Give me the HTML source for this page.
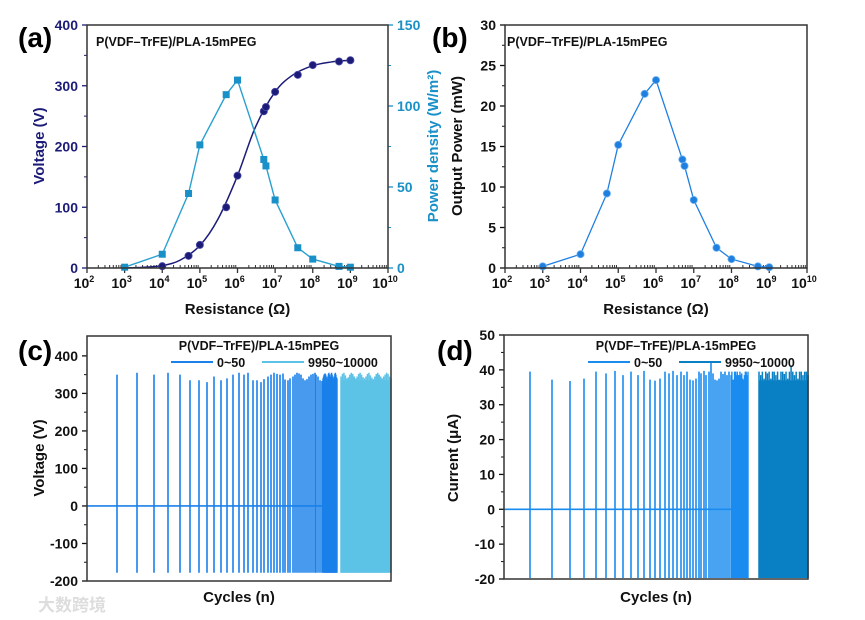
<!DOCTYPE html>
<html><head><meta charset="utf-8"><style>
html,body{margin:0;padding:0;background:#fff;}
svg{display:block;font-family:"Liberation Sans",Arial,sans-serif;font-weight:bold;}
</style></head><body>
<svg id="fig" width="865" height="620" viewBox="0 0 865 620" xmlns="http://www.w3.org/2000/svg">
<text x="38" y="611" font-size="17" fill="#ddd" font-family="'Liberation Sans','Noto Sans CJK SC',sans-serif">大数跨境</text>
</svg>
<script>
// ---------- data ----------
const resA = [1e4,5e4,1e5,5e5,1e6,5e6,5.7e6,1e7,4e7,1e8,5e8,1e9];
const voltA = [3,20,38,100,152,258,265,290,318,334,340,342];
const fitR = [1e3,3e3,1e4,3e4,1e5,3e5,1e6,3e6,1e7,3e7,1e8,3e8,1e9];
const fitV = [0,1,4,13,37,80,152,232,290,318,333,339,342];
const resP = [1e3,1e4,5e4,1e5,5e5,1e6,5e6,5.7e6,1e7,4e7,1e8,5e8,1e9];
const powDens = [0.5,8.5,46,76,107,116,67,63,42,12.5,5.5,1,0.5];
const outPow = [0.2,1.7,9.2,15.2,21.5,23.2,13.4,12.6,8.4,2.5,1.1,0.2,0.1];
const ytA = [0,100,200,300,400];
const ytA2 = [0,50,100,150];
const ytB = [0,5,10,15,20,25,30];
const xExp = [2,3,4,5,6,7,8,9,10];
// panel c spikes (time units 0..304)
const cTimes = [30,50,67,81,93,103,112,120,127,134,140,146,152,157,161,166,170,174,177,181,184,187,190,193,196,198,201,203,206,208,210,212,214,216,218,220,222,224,226,228,229,231,233,235];
const cPeaks = [350,355,350,355,350,335,335,330,345,335,340,350,355,350,355,335,335,330,338,345,350,355,352,350,353,337,335,340,345,350,355,353,350,340,335,338,345,350,352,355,350,345,335,333];
const cNeg = -178;
const cTail = [340,345,350,352,353,350,345,340,332,345,352,355,350,340,345,352,355,350,345,340,338,345,352,355,350,343,340];
const c2Peaks = [345,352,355,348,340,343,350,355,352,345,340,345,352,355,350,343,340,345,352,355,348,342,338,345,352,355,350,345,340,345,350,355,352,345,340];
const ytC = [-200,-100,0,100,200,300,400];
// panel d spikes (time units 0..304)
const dTimes = [26,48,66,80,92,102,111,119,127,134,140,146,151,156,161,165,169,173,177,180,183,186,189,192,195,197,200,202,205,207,209,211,213,215,217,219,221,223,225];
const dPeaks = [39.5,37.2,36.8,37.5,39.5,39,39.7,38.5,39.5,38.5,39.7,37.2,36.9,37.5,39.5,39,39.7,38.5,39.5,38.5,39.5,37.2,37,37.5,39.5,39,39.7,38.5,39.5,42.5,39,37.2,37,37.5,39.5,38.8,39.5,38.5,39.5];
const dNeg = -19.7;
const dTail = [38.5,39.5,37.2,37.2,39.5,39.5,38.5,39.5,38.5,38.5,39.5,38.5,39,37.5,37.2,38.5,39.5,39.5,38.5,39.5];
const d2Peaks = [39.5,38.5,39.5,37.5,39.5,39,39.5,37.5,39.5,39.5,38.5,39.5,37.2,39.5,39.5,38.8,39.5,37.5,39.5,41.2,39.5,38.5,39.5,37.5,39.5,39.5,38.5,39.5,39.5,38.5];
const ytD = [-20,-10,0,10,20,30,40,50];

// ---------- helpers ----------
const NS = "http://www.w3.org/2000/svg";
const svg = document.getElementById('fig');
function mk(tag, attrs, parent){const e=document.createElementNS(NS,tag);for(const k in attrs)e.setAttribute(k,attrs[k]);(parent||svg).appendChild(e);return e;}
function txt(x,y,s,size,fill,anchor,parent){const t=mk('text',{x:x,y:y,'font-size':size,fill:fill||'#000','text-anchor':anchor||'middle'},parent);t.textContent=s;return t;}
function logScale(x0,x1){return v=>x0+(Math.log10(v)-2)/8*(x1-x0);}
function linScale(d0,d1,p0,p1){return v=>p0+(v-d0)/(d1-d0)*(p1-p0);}

function frame(x0,y0,x1,y1,name){
  const r=mk('rect',{x:x0,y:y0,width:x1-x0,height:y1-y0,fill:'none',stroke:'#333','stroke-width':1.5});
  
}
function logXAxis(x0,x1,yb,titleY,name){
  const sx=logScale(x0,x1);
  const g=mk('g',{});
  xExp.forEach(e=>{const x=sx(Math.pow(10,e));
    mk('line',{x1:x,y1:yb,x2:x,y2:yb+5,stroke:'#333','stroke-width':1.3},g);
    const t=txt(x-3,yb+20,'10',14,'#111','middle',g);
    const s=mk('tspan',{dy:-6,'font-size':9},t);s.textContent=e;
    if(e<10){for(let m=2;m<10;m++){const xm=sx(m*Math.pow(10,e));mk('line',{x1:xm,y1:yb,x2:xm,y2:yb-3,stroke:'#333','stroke-width':1},g);}}
  });
  txt((x0+x1)/2,titleY,'Resistance (Ω)',15,'#111','middle',g);
  return sx;
}
function yAxis(x,ticks,sy,color,side,name,minor){
  const g=mk('g',{});
  const dir=side==='left'?-1:1;
  ticks.forEach((v,i)=>{const y=sy(v);
    mk('line',{x1:x,y1:y,x2:x+dir*5,y2:y,stroke:color,'stroke-width':1.3},g);
    txt(x+dir*9,y+5,String(v),14,color,side==='left'?'end':'start',g);
    if(i<ticks.length-1&&minor){const ym=sy((v+ticks[i+1])/2);mk('line',{x1:x,y1:ym,x2:x+dir*3,y2:ym,stroke:color,'stroke-width':1},g);}
  });
  return g;
}
function ytitle(x,y,s,color,name){const t=txt(x,y,s,15,color,'middle');t.setAttribute('transform',`rotate(-90 ${x} ${y})`);return t;}
function plabel(x,y,s,name){const t=txt(x,y,s,28,'#000','start');}
function smoothPath(pts){let d=`M${pts[0][0]},${pts[0][1]}`;for(let i=0;i<pts.length-1;i++){const p0=pts[i-1]||pts[i],p1=pts[i],p2=pts[i+1],p3=pts[i+2]||p2;
  d+=` C${p1[0]+(p2[0]-p0[0])/6},${p1[1]+(p2[1]-p0[1])/6} ${p2[0]-(p3[0]-p1[0])/6},${p2[1]-(p3[1]-p1[1])/6} ${p2[0]},${p2[1]}`;}return d;}

// ---------- Panel A ----------
(function(){
  const x0=87,x1=388,y0=25,y1=268;
  plabel(18,47,'(a)','panel-a-label');
  const sx=logXAxis(x0,x1,y1,314,'panel-a-x-axis');
  const sy=linScale(0,400,y1,y0), sy2=linScale(0,150,y1,y0);
  yAxis(x0,ytA,sy,'#1c1c78','left','panel-a-left-axis',true);
  yAxis(x1,ytA2,sy2,'#1a90c8','right','panel-a-right-axis',true);
  ytitle(44,146,'Voltage (V)','#1c1c78','panel-a-y-title');
  ytitle(438,146,'Power density (W/m²)','#1a90c8','panel-a-y2-title');
  const fit=mk('path',{d:smoothPath(fitR.map((r,i)=>[sx(r),sy(fitV[i])])),fill:'none',stroke:'#1c1c78','stroke-width':1.5});
  
  resA.forEach((r,i)=>{const c=mk('circle',{cx:sx(r),cy:sy(voltA[i]),r:3.6,fill:'#1c1c78',stroke:'#4a4aa8','stroke-width':0.8});
    });
  const pl=mk('polyline',{points:resP.map((r,i)=>sx(r)+','+sy2(powDens[i])).join(' '),fill:'none',stroke:'#2aa0d0','stroke-width':1.4});
  
  resP.forEach((r,i)=>{const s=mk('rect',{x:sx(r)-3.5,y:sy2(powDens[i])-3.5,width:7,height:7,fill:'#1a90c8'});
    });
  frame(x0,y0,x1,y1,'panel-a-frame');
  const t=txt(96,46,'P(VDF–TrFE)/PLA-15mPEG',12.5,'#111','start');
})();

// ---------- Panel B ----------
(function(){
  const x0=505,x1=807,y0=25,y1=268;
  plabel(432,47,'(b)','panel-b-label');
  const sx=logXAxis(x0,x1,y1,314,'panel-b-x-axis');
  const sy=linScale(0,30,y1,y0);
  yAxis(x0,ytB,sy,'#111','left','panel-b-left-axis',true);
  ytitle(462,146,'Output Power (mW)','#111','panel-b-y-title');
  const pl=mk('polyline',{points:resP.map((r,i)=>sx(r)+','+sy(outPow[i])).join(' '),fill:'none',stroke:'#1f7fe0','stroke-width':1.3});
  
  resP.forEach((r,i)=>{const c=mk('circle',{cx:sx(r),cy:sy(outPow[i]),r:3.6,fill:'#1f7fe0',stroke:'#6ab0f0','stroke-width':0.8});
    });
  frame(x0,y0,x1,y1,'panel-b-frame');
  const t=txt(507,46,'P(VDF–TrFE)/PLA-15mPEG',12.5,'#111','start');
})();

// ---------- spike panels ----------
function spikePanel(o){
  const {x0,x1,y0,y1}=o;
  const sx=linScale(0,304,x0,x1), sy=linScale(o.ymin,o.ymax,y1,y0);
  yAxis(x0,o.ticks,sy,'#111','left',o.name+'-left-axis',true);
  const g=mk('g',{});
  mk('line',{x1:x0,y1:sy(0),x2:sx(o.r1end),y2:sy(0),stroke:o.c1,'stroke-width':1.6},g);
  o.times.forEach((t,i)=>{const x=sx(t);const l=mk('line',{x1:x,y1:sy(o.peaks[i]),x2:x,y2:sy(o.neg),stroke:o.c1,'stroke-width':1.6},g);
    });
  const tailN=o.tail.length;
  o.tail.forEach((p,i)=>{const x=sx(o.tailStart+(o.r1end-o.tailStart)*i/(tailN-1));
    mk('line',{x1:x,y1:sy(p),x2:x,y2:sy(o.neg),stroke:o.c1,'stroke-width':1.4},g);});
  const g2=mk('g',{});
  const n=o.peaks2.length;
  o.peaks2.forEach((p,i)=>{const x=sx(o.r2start+(304-o.r2start)*i/(n-1));
    mk('line',{x1:x,y1:sy(p),x2:x,y2:sy(o.neg),stroke:o.c2,'stroke-width':1.5},g2);});
  mk('rect',{x:sx(o.r2start),y:sy(o.fill2),width:sx(304)-sx(o.r2start),height:sy(o.neg)-sy(o.fill2),fill:o.c2},g2);
  frame(x0,y0,x1,y1,o.name+'-frame');
  const cx=(x0+x1)/2+12;
  const t=txt(cx+8,350,'P(VDF–TrFE)/PLA-15mPEG',12.5,'#111','middle');
  const l1=mk('g',{});
  mk('line',{x1:cx-80,y1:362,x2:cx-38,y2:362,stroke:o.c1,'stroke-width':2},l1);txt(cx-34,367,'0~50',12.5,'#111','start',l1);
  const l2=mk('g',{});
  mk('line',{x1:cx+11,y1:362,x2:cx+53,y2:362,stroke:o.c2,'stroke-width':2},l2);txt(cx+57,367,'9950~10000',12.5,'#111','start',l2);
  const xt=txt((x0+x1)/2,602,'Cycles (n)',15,'#111','middle');
}
plabel(18,360,'(c)','panel-c-label');
ytitle(44,458,'Voltage (V)','#111','panel-c-y-title');
spikePanel({name:'panel-c',x0:87,x1:391,y0:336,y1:581,ymin:-200,ymax:453,ticks:ytC,times:cTimes,peaks:cPeaks,neg:cNeg,
  tail:cTail,tailStart:236,r1end:250,
  peaks2:c2Peaks,r2start:254,fill2:335,c1:'#1a80ea',c2:'#5cc2e6'});
plabel(437,360,'(d)','panel-d-label');
ytitle(458,458,'Current (μA)','#111','panel-d-y-title');
spikePanel({name:'panel-d',x0:504,x1:808,y0:335,y1:579,ymin:-20,ymax:50,ticks:ytD,times:dTimes,peaks:dPeaks,neg:dNeg,
  tail:dTail,tailStart:227,r1end:244,
  peaks2:d2Peaks,r2start:255,fill2:37,c1:'#1a8cf0',c2:'#0a80c4'});
</script>
</body></html>
